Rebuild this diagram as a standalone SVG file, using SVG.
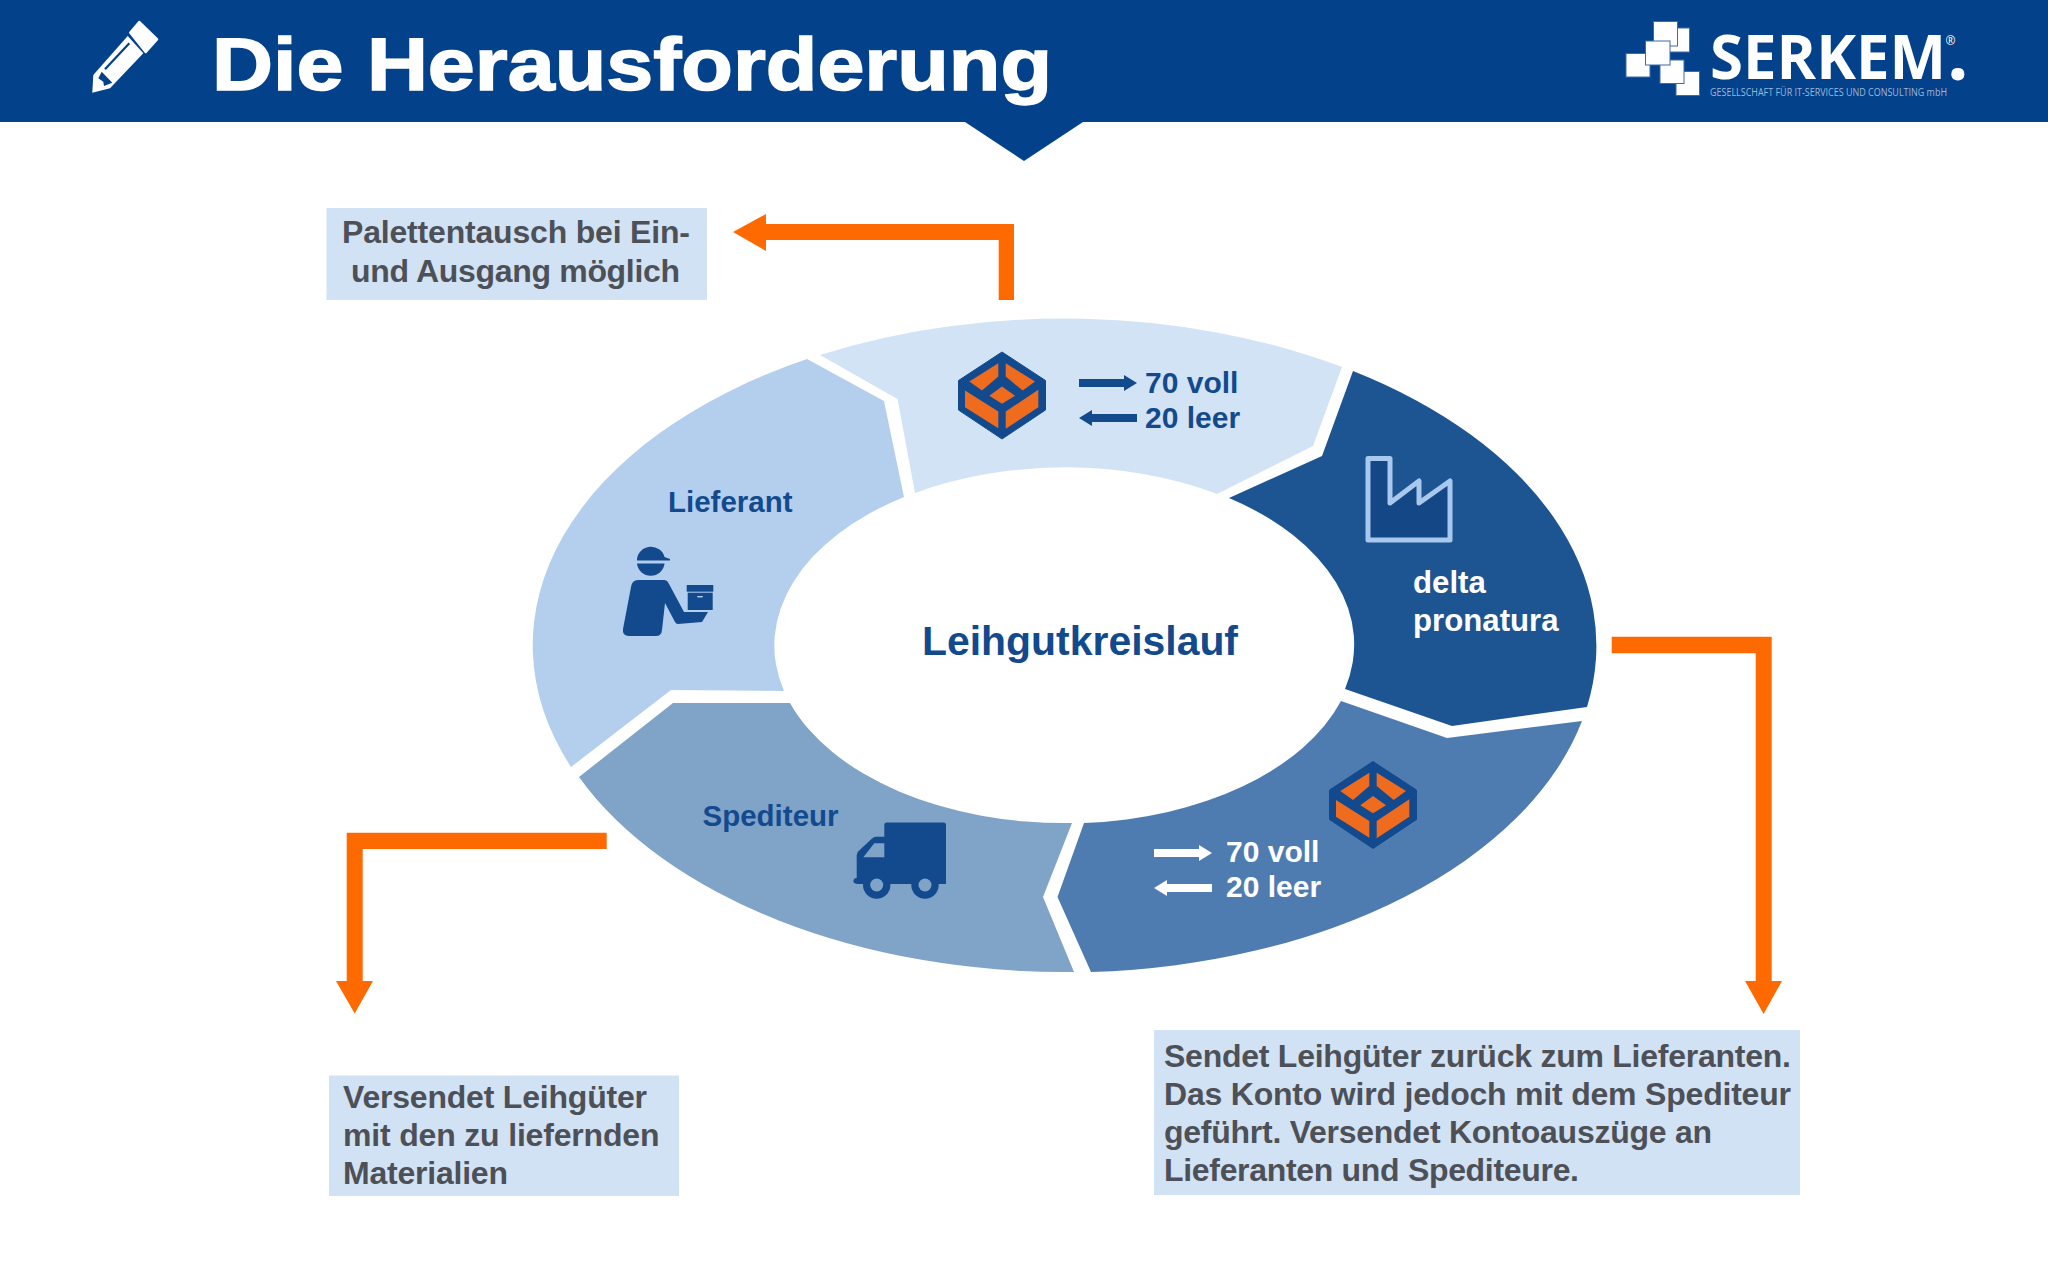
<svg xmlns="http://www.w3.org/2000/svg" width="2048" height="1280" viewBox="0 0 2048 1280">
<style>
text{font-family:"Liberation Sans",Arial,sans-serif;font-weight:700}
.lbl{font-size:30px;fill:#134a8e}
.wht{fill:#fff}
.note{font-size:32px;fill:#4d5157}
.box{fill:#d2e2f5}
.or{fill:#ff6a00}
.ink{fill:#134a8e}
.sq{fill:#fff;stroke:#3f6ba4;stroke-width:1}
.oss{font-family:"Open Sans","Liberation Sans",sans-serif}
</style>
<defs>
<g id="pallet">
<path d="M0-43.500 43.500-15V14.500L0 43.500-43.500 14.500V-15Z" fill="#134a8e" stroke="#134a8e" stroke-width="1" stroke-linejoin="round"/>
<g fill="#ef6c1f">
<path d="M-32.700-14-3.700-32.300V-19L-20-5Z"/>
<path d="M3.700-32.300 33-14 20.700-5 3.700-19Z"/>
<path d="M0-9 13 .3 0 8.300-12.700 .3Z"/>
<path d="M-37-5-3.700 16V32.700L-37 11.700Z"/>
<path d="M3.700 16 36.300-5.700V11.700L3.700 33.300Z"/>
</g>
</g>
<path id="arR" d="M0-4H45V-8L58 0 45 8V4H0Z"/>
<path id="arL" d="M58-4H13V-8L0 0 13 8V4H58Z"/>
</defs>
<rect width="2048" height="1280" fill="#fff"/>
<g id="header">
<path d="M0 0H2048V122H1083L1024 161 965 122H0Z" fill="#03418a"/>
<g id="pencil">
<path d="M139.300 21.700 157.300 39.300 145.700 52.300 130 32.700Z" fill="#fff" stroke="#fff" stroke-width="2" stroke-linejoin="round"/>
<path d="M127.700 36 143.300 53.300 110 88.300 92.300 92.700 93.300 75Z" fill="#fff"/>
<path d="M129.300 43.300 105 69.300" stroke="#03418a" stroke-width="2.200" fill="none"/>
<path d="M101.700 71.700 98.300 78.300 103.300 81.700 104 86 112.300 82.700Z" fill="#03418a"/>
</g>
<text x="212" y="90" font-size="74" fill="#fff" stroke="#fff" stroke-width="1.500" textLength="840" lengthAdjust="spacingAndGlyphs">Die Herausforderung</text>
</g>
<g id="logo">
<rect class="sq" x="1668" y="28" width="21.500" height="24"/>
<rect class="sq" x="1653.500" y="21.500" width="24" height="24.500"/>
<rect class="sq" x="1626" y="53.500" width="24" height="23.500"/>
<rect class="sq" x="1676" y="71.500" width="23.500" height="24"/>
<rect class="sq" x="1660" y="60" width="24" height="23.500"/>
<rect class="sq" x="1645.500" y="41" width="24.500" height="24"/>
<text class="oss" x="1710" y="79" font-size="60" fill="#fff" textLength="236" lengthAdjust="spacingAndGlyphs">SERKEM</text>
<text class="oss" x="1947" y="80" font-size="76" fill="#fff">.</text>
<text class="oss" x="1945.500" y="45" font-size="12" fill="#fff" style="font-weight:400">®</text>
<text class="oss" x="1710" y="96" font-size="10" fill="#9db8d8" style="font-weight:400" textLength="237" lengthAdjust="spacingAndGlyphs">GESELLSCHAFT FÜR IT-SERVICES UND CONSULTING mbH</text>
</g>
<g id="node-tausch">
<path d="M820 355A531.500 327 0 0 1 1342 367L1313 446 1217 494A289.500 178 0 0 0 915 493L897.500 399Z" fill="#d2e3f5"/>
<use href="#pallet" x="1002" y="395.500"/>
<use href="#arR" class="ink" x="1079" y="383"/>
<use href="#arL" class="ink" x="1079" y="418"/>
<text class="lbl" x="1145" y="393">70 voll</text>
<text class="lbl" x="1145" y="428">20 leer</text>
</g>
<g id="node-delta">
<path d="M1353 371A531.500 327 0 0 1 1587 707L1452 726 1345 689A289.500 178 0 0 0 1229 498L1322 456Z" fill="#1d5592"/>
<path d="M1368 540V458.500H1390V503L1419 481V503L1450 481V540Z" fill="#134785" stroke="#a9c8ee" stroke-width="5" stroke-linejoin="round"/>
<text class="lbl wht" x="1413" y="592.500" style="font-size:31.200px">delta</text>
<text class="lbl wht" x="1413" y="630.500" style="font-size:31.200px">pronatura</text>
</g>
<g id="node-transport">
<path d="M1341 701 1447 738 1582 721A531.500 327 0 0 1 1091 972L1057.500 897 1084 823A289.500 178 0 0 0 1341 701Z" fill="#4f7cb0"/>
<use href="#pallet" x="1373" y="805"/>
<use href="#arR" fill="#fff" x="1154" y="853"/>
<use href="#arL" fill="#fff" x="1154" y="888"/>
<text class="lbl wht" x="1226" y="862">70 voll</text>
<text class="lbl wht" x="1226" y="897">20 leer</text>
</g>
<g id="node-spediteur">
<path d="M579 777 673 703H790A289.500 178 0 0 0 1072 823L1043 897 1074 972A531.500 327 0 0 1 579 777Z" fill="#80a3c8"/>
<text class="lbl" x="702.500" y="826" style="font-size:29.500px">Spediteur</text>
<path class="ink" d="M884.300 825a2.500 2.500 0 0 1 2.500-2.500H943.500a2.500 2.500 0 0 1 2.500 2.500V884H858a4.500 3 0 0 1-4.700-3 3.500 3.500 0 0 1 3.400-3V855q0-3 3-5L872 838.500q2-1.800 4-1.800H884.300Z"/>
<path d="M884.300 843.300H874.300L863.300 857.300H884.300Z" fill="#80a3c8"/>
<circle class="ink" cx="876.700" cy="885" r="13.700"/>
<circle class="ink" cx="925" cy="885" r="13.700"/>
<circle cx="876.700" cy="885" r="6.500" fill="#80a3c8"/>
<circle cx="925" cy="885" r="6.500" fill="#80a3c8"/>
</g>
<g id="node-lieferant">
<path d="M571 767A531.500 327 0 0 1 807 359L884 401 904 497A289.500 178 0 0 0 784 691L671 690Z" fill="#b4cfee"/>
<text class="lbl" x="668" y="512" style="font-size:29.500px">Lieferant</text>
<path class="ink" d="M637 559a14 13.500 0 0 1 27.500-2L670 559V560.500H637Z"/>
<path class="ink" d="M637 563.500H664.500a13.800 13.300 0 0 1-27.500 0Z"/>
<path class="ink" d="M638 580H664q3 0 4.500 3L684 612H708L702 622 678 624q-2 0-3-2L665 603 662 630q-.5 6-6 6H629q-7 0-6-7L631 587q1-7 7-7Z"/>
<rect class="ink" x="686.700" y="585" width="26.600" height="6.700"/>
<rect class="ink" x="687.700" y="592.700" width="25" height="17.300"/>
<rect x="697.300" y="596" width="5.400" height="1.400" fill="#b4cfee"/>
</g>
<g id="node-center">
<text x="922" y="655" font-size="41" fill="#134a8e" textLength="316" lengthAdjust="spacingAndGlyphs">Leihgutkreislauf</text>
</g>
<g id="connectors" class="or">
<path d="M1014 300H998.700V240H766V251L733 232 766 214V224H1014Z"/>
<path d="M1611.700 636.700H1771.700V981H1782L1763.600 1014 1745 981H1755.700V653.300H1611.700Z"/>
<path d="M606.700 832.700H346.700V981H336L354.700 1013.500 373 981H362.700V849H606.700Z"/>
</g>
<g id="note-tausch">
<rect class="box" x="326.500" y="208" width="380.500" height="92"/>
<text class="note" x="342" y="243" textLength="348">Palettentausch bei Ein-</text>
<text class="note" x="351" y="282" textLength="329">und Ausgang möglich</text>
</g>
<g id="note-lieferant">
<rect class="box" x="329" y="1075.500" width="350" height="120.500"/>
<text class="note" x="343" y="1108" textLength="304">Versendet Leihgüter</text>
<text class="note" x="343" y="1146" textLength="316.500">mit den zu liefernden</text>
<text class="note" x="343" y="1184" textLength="165">Materialien</text>
</g>
<g id="note-delta">
<rect class="box" x="1154" y="1030" width="646" height="165"/>
<text class="note" x="1164" y="1067" textLength="627">Sendet Leihgüter zurück zum Lieferanten.</text>
<text class="note" x="1164" y="1105" textLength="627">Das Konto wird jedoch mit dem Spediteur</text>
<text class="note" x="1164" y="1143" textLength="548">geführt. Versendet Kontoauszüge an</text>
<text class="note" x="1164" y="1181" textLength="415">Lieferanten und Spediteure.</text>
</g>
</svg>
